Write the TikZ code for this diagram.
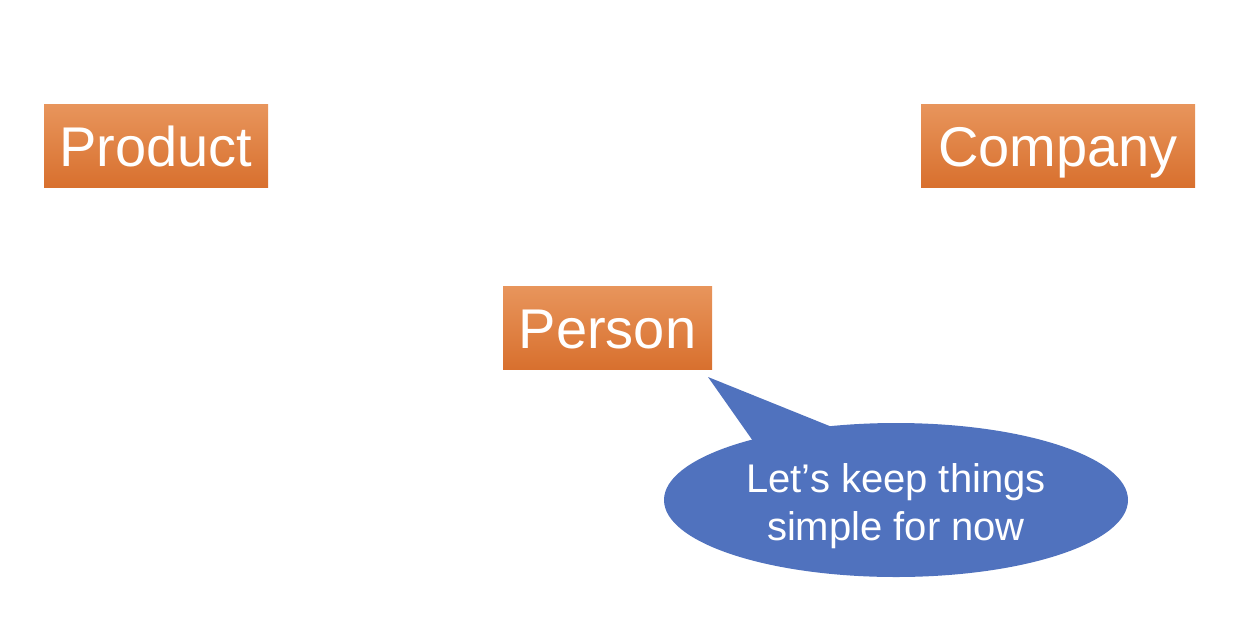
\documentclass[tikz,border=0pt]{standalone}
\usepackage{fontspec}
\setmainfont{Liberation Sans}
\usetikzlibrary{shapes.geometric}
\definecolor{orT}{HTML}{E8955C}
\definecolor{orB}{HTML}{D8702E}
\definecolor{calloutblue}{HTML}{5072BE}
\tikzset{
  entity/.style={rectangle, top color=orT, bottom color=orB, draw=none,
    text=white, font=\fontsize{28}{33}\selectfont, inner sep=0pt,
    text height=20.5pt, text depth=0pt, anchor=center},
  bubble/.style={ellipse, fill=calloutblue, draw=none, inner sep=0pt,
    text=white, align=center, font=\fontsize{20}{24}\selectfont}
}
\begin{document}
\begin{tikzpicture}[x=0.5pt,y=-0.5pt]
\useasboundingbox (0,0) rectangle (1242,616);
\node[entity, minimum width=112pt, minimum height=41.5pt] (product) at (156,145.5) {Product};
\node[entity, minimum width=137pt, minimum height=41.5pt] (company) at (1058,145.5) {Company};
\node[entity, minimum width=104.5pt, minimum height=41.5pt] (person) at (607.5,327.5) {Person};
\coordinate (tip) at (708,377);
\coordinate (tl) at (753,441);
\coordinate (tr) at (832,427);
\fill[calloutblue] (tl) -- (tip) -- (tr) -- cycle;
\node[bubble, minimum width=232pt, minimum height=77pt] (callout) at (896,500) {};
\node[text=white, align=center, font=\fontsize{20}{24}\selectfont, inner sep=0pt] (callouttext) at (896,506) {Let’s keep things\\simple for now};
\end{tikzpicture}
\end{document}
